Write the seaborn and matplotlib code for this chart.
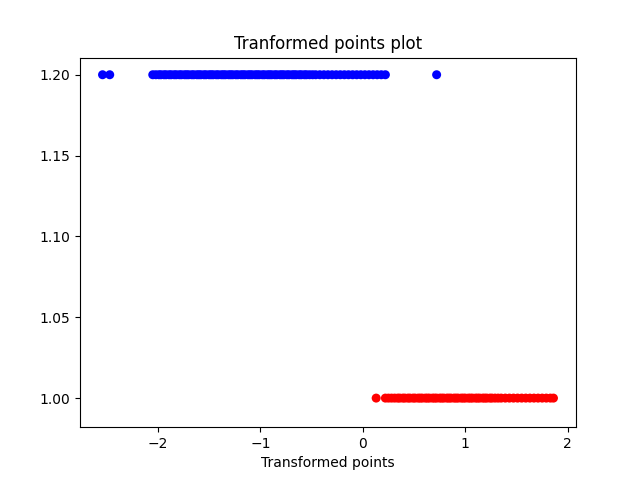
import matplotlib
matplotlib.use("Agg")
import matplotlib.pyplot as plt
import seaborn as sns
import pandas as pd

blue_x = [-2.54, -2.47,
          -2.05, -2.02, -1.99, -1.97, -1.94, -1.92, -1.89, -1.87, -1.84, -1.82, -1.79,
          -1.77, -1.74, -1.72, -1.70, -1.67, -1.65, -1.62, -1.60, -1.58, -1.55, -1.53,
          -1.50, -1.48, -1.46, -1.43, -1.41, -1.38, -1.36, -1.34, -1.31, -1.29, -1.27,
          -1.24, -1.22, -1.19, -1.17, -1.15, -1.12, -1.10, -1.08, -1.05, -1.03, -1.01,
          -0.98, -0.96, -0.93, -0.91, -0.89, -0.86, -0.84, -0.81, -0.79, -0.77, -0.74,
          -0.72, -0.69, -0.67, -0.65, -0.62, -0.60, -0.57, -0.55, -0.52, -0.49, -0.46,
          -0.42, -0.38, -0.34, -0.30, -0.26, -0.22, -0.18, -0.14, -0.10, -0.06, -0.02,
          0.02, 0.06, 0.10, 0.14, 0.18, 0.22,
          0.72]
red_x = [0.13,
         0.22, 0.25, 0.28, 0.31, 0.34, 0.36, 0.39, 0.41, 0.44, 0.46, 0.49, 0.51, 0.54,
         0.56, 0.58, 0.61, 0.63, 0.65, 0.68, 0.70, 0.72, 0.75, 0.77, 0.79, 0.82, 0.84,
         0.86, 0.89, 0.91, 0.93, 0.96, 0.98, 1.00, 1.03, 1.05, 1.07, 1.10, 1.12, 1.14,
         1.17, 1.19, 1.21, 1.24, 1.26, 1.29, 1.32, 1.35, 1.39, 1.43, 1.47, 1.51, 1.55,
         1.59, 1.63, 1.67, 1.71, 1.75, 1.79, 1.83, 1.86]
blue_y = 1.2
red_y = 1.0

df = pd.DataFrame({
    "x": blue_x + red_x,
    "y": [blue_y] * len(blue_x) + [red_y] * len(red_x),
    "cls": ["blue"] * len(blue_x) + ["red"] * len(red_x),
})

fig, ax = plt.subplots(figsize=(6.4, 4.8), dpi=100)
sns.scatterplot(data=df, x="x", y="y", hue="cls", palette={"blue": "blue", "red": "red"},
                s=42, linewidth=0, legend=False, ax=ax)
ax.set_ylim(0.982, 1.2106)
ax.set_yticks([1.00, 1.05, 1.10, 1.15, 1.20])
ax.set_xticks([-2, -1, 0, 1, 2])
ax.set_title("Tranformed points plot")
ax.set_xlabel("Transformed points")
ax.set_ylabel("")
fig.savefig("out.png", dpi=100)
